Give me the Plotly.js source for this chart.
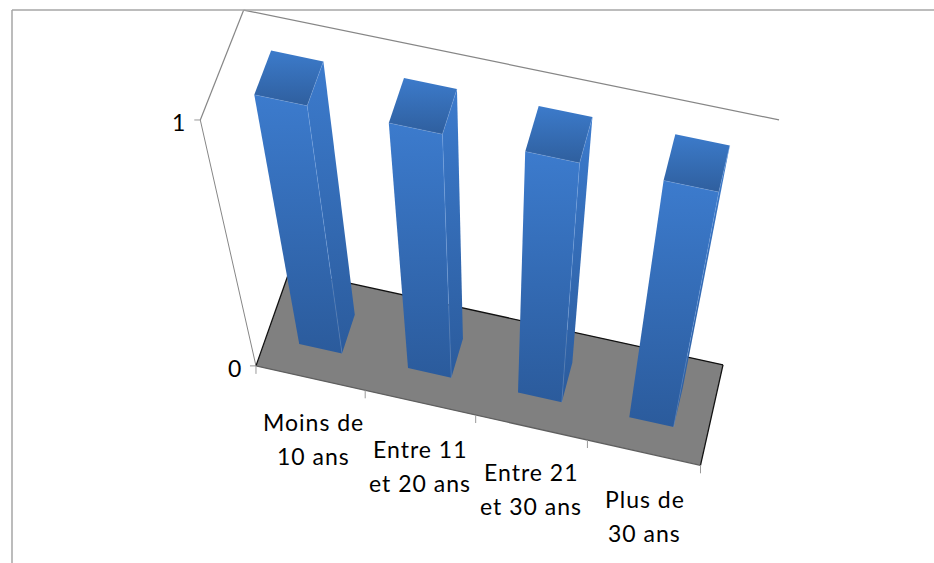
<!DOCTYPE html>
<html><head><meta charset="utf-8">
<script src="https://cdn.plot.ly/plotly-3.0.1.min.js"></script>
<style>html,body{margin:0;padding:0;background:#fff}#c{width:934px;height:563px}
.annotation-text{letter-spacing:1px}</style>
</head><body><div id="c"></div>
<script>
// ---- chart data ----
const categories = ["Moins de 10 ans","Entre 11 et 20 ans","Entre 21 et 30 ans","Plus de 30 ans"];
const labelLines = [["Moins de","10 ans"],["Entre 11","et 20 ans"],["Entre 21","et 30 ans"],["Plus de","30 ans"]];
const values = [1,1,1,1];
const valueTicks = [0,1];

// ---- 3D view: camera fitted to the box corners (category, depth, value) -> screen ----
const calib = [
 [0,0,0,256,366],[4,0,0,701,465],[4,1,0,723,365],[0,1,0,289.5,270],
 [0,0,1,200,120],[0,1,1,244,10],[4,1,1,779,120],
 [1,0,0,366,390.5],[2,0,0,475,415],[3,0,0,587,440]
];
function fitCamera(pts){
  const n=11,A=Array.from({length:n},()=>Array(n+1).fill(0));
  const add=(r,b)=>{for(let i=0;i<n;i++){for(let j=0;j<n;j++)A[i][j]+=r[i]*r[j];A[i][n]+=r[i]*b;}};
  pts.forEach(([u,v,z,x,y])=>{x/=1000;y/=1000;
    add([u,v,z,1,0,0,0,0,-x*u,-x*v,-x*z],x);
    add([0,0,0,0,u,v,z,1,-y*u,-y*v,-y*z],y);});
  for(let i=0;i<n;i++){let m=i;for(let k=i+1;k<n;k++)if(Math.abs(A[k][i])>Math.abs(A[m][i]))m=k;
    [A[i],A[m]]=[A[m],A[i]];
    for(let k=0;k<n;k++){if(k===i)continue;const f=A[k][i]/A[i][i];for(let j=i;j<=n;j++)A[k][j]-=f*A[i][j];}}
  return A.map((r,i)=>r[n]/r[i]);
}
const P=fitCamera(calib);
function proj(u,v,z){const w=P[8]*u+P[9]*v+P[10]*z+1;
  return [1000*(P[0]*u+P[1]*v+P[2]*z+P[3])/w,1000*(P[4]*u+P[5]*v+P[6]*z+P[7])/w];}

const valueMax=valueTicks[valueTicks.length-1], nCat=categories.length;
const traces=[];
function poly(corners,scale){
  const pts=corners.map(c=>proj(...c));pts.push(pts[0]);
  traces.push({type:'scatter',mode:'none',x:pts.map(p=>p[0]),y:pts.map(p=>p[1]),
    fill:'toself',fillgradient:{type:'vertical',colorscale:scale},
    hoverinfo:'skip',showlegend:false});
}
function seg(a,b,color,width){
  const p=proj(...a),q=proj(...b);
  traces.push({type:'scatter',mode:'lines',x:[p[0],q[0]],y:[p[1],q[1]],line:{color,width},hoverinfo:'skip',showlegend:false});
}
// floor
const f=[proj(0,0,0),proj(nCat,0,0),proj(nCat,1,0),proj(0,1,0)];f.push(f[0]);
traces.push({type:'scatter',mode:'none',x:f.map(p=>p[0]),y:f.map(p=>p[1]),fill:'toself',fillcolor:'#808080',hoverinfo:'skip',showlegend:false});
// walls and axis lines
const wall='#868686',edge='#111111';
seg([0,0,0],[0,0,1],wall,1);
seg([0,0,1],[0,1,1],wall,1.2);
seg([0,1,1],[nCat,1,1],wall,1.2);
seg([0,0,0],[0,1,0],edge,1.3);
seg([0,1,0],[nCat,1,0],edge,1.3);
seg([nCat,1,0],[nCat,0,0],edge,1.3);
seg([0,0,0],[nCat,0,0],'#5f5f5f',1.3);
for(let i=0;i<=nCat;i++){const p=proj(i,0,0);
  traces.push({type:'scatter',mode:'lines',x:[p[0],p[0]],y:[p[1],p[1]+8],line:{color:'#999999',width:1},hoverinfo:'skip',showlegend:false});}
valueTicks.forEach(t=>{const p=proj(0,0,t/valueMax);
  traces.push({type:'scatter',mode:'lines',x:[p[0]-6,p[0]],y:[p[1],p[1]],line:{color:'#999999',width:1},hoverinfo:'skip',showlegend:false});});
// bars
const u0=.305,u1=.70,v0=.3,v1=.7;
const frontScale=[[0,'#2B5B9C'],[1,'#3C7BCD']];
const sideScale=[[0,'#2B5B9C'],[1,'#3C7BCD']];
const topScale=[[0,'#2F5F9E'],[1,'#3C7BCB']];
const seam={color:'rgba(130,175,235,.5)',width:.6};
values.forEach((val,i)=>{
  const z=val/valueMax,a=i+u0,b=i+u1;
  poly([[b,v0,0],[b,v1,0],[b,v1,z],[b,v0,z]],sideScale);
  poly([[a,v0,0],[b,v0,0],[b,v0,z],[a,v0,z]],frontScale);
  poly([[a,v0,z],[b,v0,z],[b,v1,z],[a,v1,z]],topScale);
  seg([b,v0,0],[b,v0,z],seam.color,seam.width);
  seg([a,v0,z],[b,v0,z],seam.color,seam.width);
  seg([b,v0,z],[b,v1,z],seam.color,seam.width);
});
// text
const ann=[];
const fontBase={family:'Lato, Carlito, sans-serif',size:23,color:'#000'};
const labelShift=[[3,44],[0,46],[0,45],[1,46]];
labelLines.forEach((lines,i)=>{const p=proj(i+.5,0,0);
  lines.forEach((t,k)=>ann.push({xref:'x',yref:'y',x:p[0]+labelShift[i][0],y:p[1]+labelShift[i][1]+k*34,text:t,showarrow:false,font:fontBase,xanchor:'center',yanchor:'middle'}));
});
valueTicks.forEach(t=>{const p=proj(0,0,t/valueMax);
  ann.push({xref:'x',yref:'y',x:p[0]-12,y:p[1]+2,text:String(t),showarrow:false,font:fontBase,xanchor:'right',yanchor:'middle'});});

const layout={width:934,height:563,margin:{l:0,r:0,t:0,b:0},paper_bgcolor:'#fff',plot_bgcolor:'#fff',showlegend:false,
  xaxis:{range:[0,934],visible:false,fixedrange:true},
  yaxis:{range:[563,0],visible:false,fixedrange:true},
  annotations:ann,
  shapes:[
   {type:'line',xref:'x',yref:'y',x0:12,y0:10,x1:934,y1:10,line:{color:'#A6A6A6',width:1.5}},
   {type:'line',xref:'x',yref:'y',x0:12,y0:10,x1:12,y1:563,line:{color:'#A6A6A6',width:1.5}}
  ]};
Plotly.newPlot('c',traces,layout,{displayModeBar:false,staticPlot:true});
</script></body></html>
